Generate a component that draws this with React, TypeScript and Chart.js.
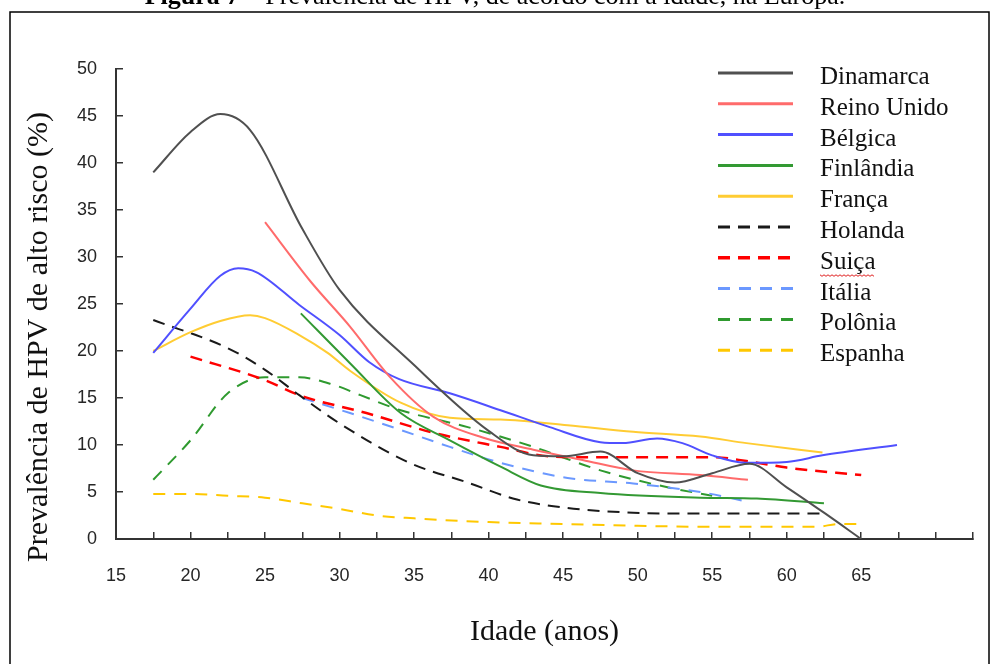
import React, { useEffect, useRef } from "react";
import { Chart, registerables } from "chart.js";

Chart.register(...registerables);

// ---- Data (age in years, prevalence %) ----
const dinamarca: [number, number][] = [
  [17.5, 39], [20, 43.3], [22, 45.2], [24, 43.5], [27.5, 33], [30, 26.5], [35, 18.5],
  [40, 11.5], [43, 8.9], [45, 8.8], [47.5, 9.3], [50, 7.0], [52.5, 6.0], [55, 7.0],
  [57.5, 8.0], [60, 5.5], [62.5, 2.8], [65, 0],
];
const reinoUnido: [number, number][] = [
  [25, 33.7], [28, 27.5], [30.7, 22.6], [33.4, 17.2], [36.3, 13.0], [39.6, 10.8],
  [43, 9.5], [46.3, 8.4], [49.7, 7.3], [54.2, 6.8], [57.4, 6.3],
];
const belgica: [number, number][] = [
  [17.5, 19.8], [20, 24.5], [22, 28.0], [23.2, 28.8], [24.4, 28.4], [27.3, 24.9],
  [30, 21.7], [32, 18.8], [34, 17.0], [37.4, 15.5], [40.8, 13.7], [44.1, 11.9],
  [47.5, 10.3], [49, 10.2], [51.3, 10.7], [53, 10.2], [55, 8.9], [57.3, 8.1],
  [60, 8.2], [62.4, 8.9], [67.4, 10.0],
];
const finlandia: [number, number][] = [
  [27.4, 24.0], [30.7, 18.7], [34.1, 13.4], [37.4, 10.5], [40.8, 7.7], [43.5, 5.7],
  [47.5, 4.9], [54.2, 4.4], [58, 4.3], [62.5, 3.8],
];
const franca: [number, number][] = [
  [17.5, 20.0], [20, 22.0], [22, 23.2], [24, 23.8], [25, 23.5], [27.3, 21.7],
  [29.2, 19.8], [30.7, 17.9], [34.1, 14.5], [37.4, 12.9], [40.8, 12.7], [45.3, 12.1],
  [49.7, 11.4], [54.2, 10.9], [57.3, 10.2], [62.4, 9.2],
];
const holanda: [number, number][] = [
  [17.5, 23.3], [22.5, 20.3], [25, 18.0], [27.3, 15.3], [30, 12.3], [34.7, 8.1],
  [38.6, 6.0], [41.9, 4.2], [45.3, 3.3], [49.7, 2.8], [54.2, 2.7], [62.5, 2.7],
];
const suica: [number, number][] = [
  [20, 19.4], [25, 16.9], [27.3, 15.3], [31.8, 13.4], [36.3, 11.3], [40.8, 9.8],
  [44.1, 8.8], [47, 8.7], [50, 8.7], [55, 8.7], [57.3, 8.3], [60, 7.6], [65, 6.8],
];
const italia: [number, number][] = [
  [27.5, 15.0], [30.7, 13.4], [34.1, 11.6], [37.4, 9.8], [40.8, 8.1], [45.3, 6.5],
  [49.7, 5.9], [54.2, 5.0], [57.3, 4.0],
];
const polonia: [number, number][] = [
  [17.5, 6.3], [20, 10.5], [22.5, 15.5], [25, 17.2], [27.3, 17.2], [29.6, 16.4],
  [31.4, 15.3], [34.1, 13.7], [38.6, 11.9], [43, 9.8], [47.5, 7.3], [52, 5.5], [55, 4.6],
];
const espanha: [number, number][] = [
  [17.5, 4.8], [20, 4.8], [22.5, 4.6], [25, 4.4], [27.5, 3.8], [30, 3.2], [32.5, 2.5],
  [35, 2.2], [40, 1.8], [45, 1.6], [50, 1.4], [55, 1.3], [60, 1.3], [62, 1.3],
  [63.5, 1.6], [65, 1.6],
];

const seriesNames = [
  "Dinamarca", "Reino Unido", "Bélgica", "Finlândia", "França",
  "Holanda", "Suiça", "Itália", "Polônia", "Espanha",
];
const seriesData = [
  dinamarca, reinoUnido, belgica, finlandia, franca,
  holanda, suica, italia, polonia, espanha,
];
const seriesColors = [
  "#505050", "#ff6b6b", "#5050ff", "#339933", "#ffcc33",
  "#1a1a1a", "#ff0000", "#6b98ff", "#2f9a2f", "#ffc800",
];
const seriesDash: number[][] = [
  [], [], [], [], [],
  [12, 8], [12, 8], [12, 9], [12, 9], [12, 9],
];
const seriesWidth = [2, 2, 2, 2, 2, 2, 2.5, 2, 2, 2];

const xTickLabels = ["15", "20", "25", "30", "35", "40", "45", "50", "55", "60", "65"];

const titleBold = "Figura 7";
const titleRest = " – Prevalência de HPV, de acordo com a idade, na Europa.";
const yTitle = "Prevalência de HPV de alto risco (%)";
const xTitle = "Idade (anos)";

const decorPlugin = {
  id: "decor",
  beforeDraw(chart: any) {
    const ctx = chart.ctx as CanvasRenderingContext2D;
    ctx.save();
    ctx.fillStyle = "#ffffff";
    ctx.fillRect(0, 0, chart.width, chart.height);
    // frame
    ctx.strokeStyle = "#000";
    ctx.lineWidth = 1.5;
    ctx.strokeRect(10, 12, 979, 680);
    // figure caption (partially cut off at top)
    ctx.fillStyle = "#000";
    ctx.textBaseline = "alphabetic";
    ctx.font = "bold 26px 'Liberation Serif'";
    const wb = ctx.measureText(titleBold).width;
    ctx.font = "26px 'Liberation Serif'";
    const wr = ctx.measureText(titleRest).width;
    const x0 = 495 - (wb + wr) / 2;
    ctx.font = "bold 26px 'Liberation Serif'";
    ctx.fillText(titleBold, x0, 4);
    ctx.font = "26px 'Liberation Serif'";
    ctx.fillText(titleRest, x0 + wb, 4);
    ctx.restore();
  },
  afterDraw(chart: any) {
    const ctx = chart.ctx as CanvasRenderingContext2D;
    ctx.save();
    // y-axis title
    ctx.translate(39, 337);
    ctx.rotate(-Math.PI / 2);
    ctx.fillStyle = "#111";
    ctx.font = "30px 'Liberation Serif'";
    ctx.textAlign = "center";
    ctx.textBaseline = "middle";
    ctx.fillText(yTitle, 0, 0);
    ctx.restore();

    // legend
    ctx.save();
    const ds = chart.data.datasets;
    ds.forEach((d: any, i: number) => {
      const y = 73 + i * 30.8;
      ctx.beginPath();
      ctx.setLineDash(d.borderDash || []);
      ctx.strokeStyle = d.borderColor;
      ctx.lineWidth = (d.borderWidth || 2) + 1;
      ctx.moveTo(718, y);
      ctx.lineTo(793, y);
      ctx.stroke();
      ctx.setLineDash([]);
      ctx.fillStyle = "#111";
      ctx.font = "25px 'Liberation Serif'";
      ctx.textAlign = "left";
      ctx.textBaseline = "alphabetic";
      ctx.fillText(d.label, 820, y + 11);
      if (d.label === "Suiça") {
        const w = ctx.measureText(d.label).width;
        ctx.beginPath();
        ctx.strokeStyle = "#e02020";
        ctx.lineWidth = 1;
        for (let k = 0; k <= w; k += 2) {
          const yy = y + 17 + (k % 4 === 0 ? 0 : 1.5);
          if (k === 0) ctx.moveTo(820 + k, yy);
          else ctx.lineTo(820 + k, yy);
        }
        ctx.stroke();
      }
    });
    ctx.restore();
  },
};

export default function App() {
  const ref = useRef<HTMLCanvasElement | null>(null);

  useEffect(() => {
    if (!ref.current) return;
    const datasets = seriesNames.map((name, i) => ({
      label: name,
      data: seriesData[i].map(([x, y]) => ({ x, y })),
      borderColor: seriesColors[i],
      backgroundColor: seriesColors[i],
      borderWidth: seriesWidth[i],
      borderDash: seriesDash[i],
      pointRadius: 0,
      cubicInterpolationMode: "monotone",
      fill: false,
    }));
    const chart = new Chart(ref.current, {
      type: "line",
      data: { datasets },
      plugins: [decorPlugin],
      options: {
        responsive: false,
        animation: false,
        devicePixelRatio: 1,
        layout: { padding: { left: 0, top: 69, right: 19, bottom: 0 } },
        plugins: {
          legend: { display: false },
          tooltip: { enabled: false },
          title: { display: false },
        },
        scales: {
          x: {
            type: "linear",
            min: 15,
            max: 72.5,
            ticks: {
              stepSize: 2.5,
              autoSkip: false,
              maxRotation: 0,
              callback: (v: any) => {
                const s = String(v);
                return xTickLabels.includes(s) ? s : "";
              },
              font: { family: "'Liberation Sans'", size: 18 },
              color: "#262626",
              padding: 33,
            },
            grid: {
              drawOnChartArea: false,
              drawTicks: true,
              tickLength: -7,
              color: "#333",
              lineWidth: 1.5,
            },
            border: { color: "#333", width: 2 },
            title: {
              display: true,
              text: xTitle,
              font: { family: "'Liberation Serif'", size: 30 },
              color: "#111",
              padding: { top: 0, bottom: 14 },
            },
            afterFit: (s: any) => {
              s.height = 125;
              s.paddingLeft = 0;
              s.paddingRight = 0;
            },
          },
          y: {
            min: 0,
            max: 50,
            ticks: {
              stepSize: 5,
              font: { family: "'Liberation Sans'", size: 18 },
              color: "#262626",
              padding: 26,
            },
            grid: {
              drawOnChartArea: false,
              drawTicks: true,
              tickLength: -7,
              color: "#333",
              lineWidth: 1.5,
            },
            border: { color: "#333", width: 2 },
            afterFit: (s: any) => {
              s.width = 116;
              s.paddingTop = 0;
              s.paddingBottom = 0;
            },
          },
        },
      } as any,
    });
    return () => chart.destroy();
  }, []);

  return (
    <canvas
      ref={ref}
      width={992}
      height={664}
      style={{ position: "absolute", left: 0, top: 0, width: 992, height: 664 }}
    />
  );
}
